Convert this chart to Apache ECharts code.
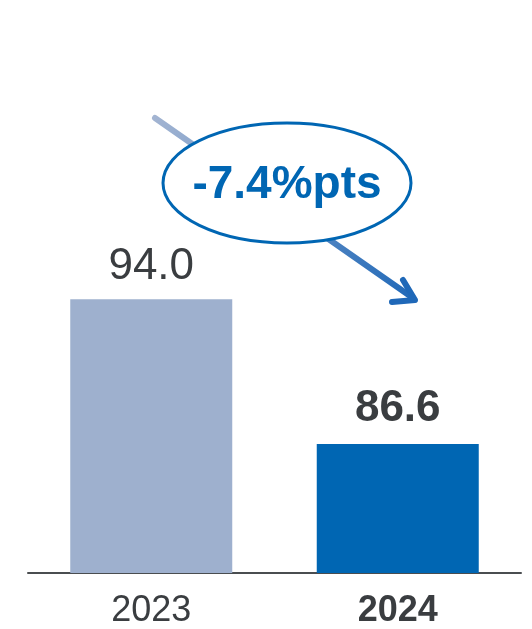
<!DOCTYPE html>
<html><head><meta charset="utf-8">
<script src="https://cdn.jsdelivr.net/npm/echarts@6/dist/echarts.min.js"></script>
<style>html,body{margin:0;padding:0;background:#fff}#c{width:532px;height:629px}</style>
</head><body><div id="c"></div>
<script>
const categories = ['2023', '2024'];
const values = [94.0, 86.6];
const barColors = ['#9EB0CE', '#0066B3'];
const changeLabel = '-7.4%pts';

const chart = echarts.init(document.getElementById('c'));
const FONT = '"Liberation Sans", Arial, sans-serif';
chart.setOption({
  animation: false,
  grid: { left: 28, right: 11, bottom: 54, top: 182 },
  xAxis: {
    type: 'category',
    data: categories.map((c, i) => i === 1 ? { value: c, textStyle: { fontWeight: 'bold' } } : c),
    axisLine: { lineStyle: { color: '#4a4d50', width: 2 } },
    axisTick: { show: false },
    axisLabel: { fontSize: 36, color: '#3a3d40', fontFamily: FONT, margin: 20 }
  },
  yAxis: { type: 'value', min: 80, max: 100, show: false, splitLine: { show: false } },
  series: [{
    type: 'bar',
    barWidth: 162,
    data: values.map((v, i) => ({
      value: v,
      itemStyle: { color: barColors[i] },
      label: { fontWeight: i === 1 ? 'bold' : 'normal', distance: i === 1 ? 13 : 10 }
    })),
    label: {
      show: true, position: 'top',
      fontSize: 44, color: '#3a3d40', fontFamily: FONT,
      formatter: p => p.value.toFixed(1)
    }
  }],
  graphic: [
    {
      type: 'line', z: 10,
      shape: { x1: 155, y1: 118, x2: 413, y2: 298 },
      style: {
        lineWidth: 6, lineCap: 'round',
        stroke: new echarts.graphic.LinearGradient(0, 0, 1, 1, [
          { offset: 0, color: '#A4B5D2' }, { offset: 1, color: '#1F68B8' }
        ])
      }
    },
    {
      type: 'polyline', z: 10,
      shape: { points: [[392, 302], [415, 300], [403, 280]] },
      style: { lineWidth: 6, lineCap: 'round', lineJoin: 'round', stroke: '#1F68B8', fill: null }
    },
    {
      type: 'ellipse', z: 11,
      shape: { cx: 287, cy: 183, rx: 124, ry: 60 },
      style: { fill: '#fff', stroke: '#0066B3', lineWidth: 3 }
    },
    {
      type: 'text', z: 12,
      x: 287, y: 185,
      style: {
        text: changeLabel, fill: '#0066B3', fontSize: 46, fontWeight: 'bold',
        fontFamily: FONT, align: 'center', verticalAlign: 'middle'
      }
    }
  ]
});
</script></body></html>
